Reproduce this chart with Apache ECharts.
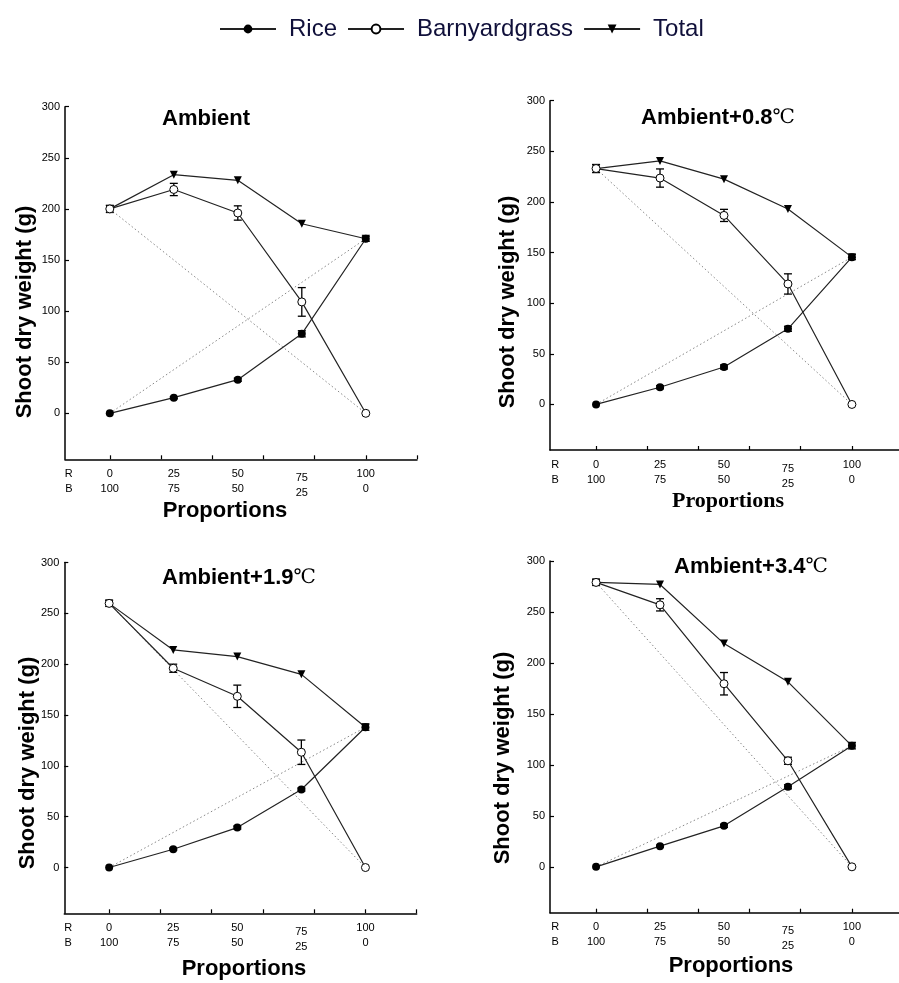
<!DOCTYPE html>
<html>
<head>
<meta charset="utf-8">
<script src="https://cdn.jsdelivr.net/npm/echarts@6.0.0/dist/echarts.min.js"></script>
<style>html,body{margin:0;padding:0;background:#fff}#c{width:899px;height:983px}</style>
</head>
<body>
<div id="c"></div>
<script>
// ---- data ----
const proportions = [0, 25, 50, 75, 100];
const riceLabels = ['0', '25', '50', '75', '100'];
const barnLabels = ['100', '75', '50', '25', '0'];
const yTicks = [0, 50, 100, 150, 200, 250, 300];
const xTicks = [0, 20, 40, 60, 80, 100, 120];
const seriesNames = ['Rice', 'Barnyardgrass', 'Total'];
const panelTitles = ['Ambient', 'Ambient+0.8', 'Ambient+1.9', 'Ambient+3.4'];
const titleUnits = ['', '℃', '℃', '℃'];

const riceAmbient = [0, 15.3, 32.9, 77.8, 170.8];
const barnAmbient = [200, 219, 196, 109, 0];
const totalAmbient = [200, 233.5, 228, 185.5, 170.8];
const riceErrAmbient = [0, 1, 1.5, 3, 2.5];
const barnErrAmbient = [3.5, 6, 7, 14, 0];

const riceP08 = [0, 17, 37, 74.7, 145.5];
const barnP08 = [233, 223.6, 186.7, 119, 0];
const totalP08 = [233, 240.5, 222.5, 193, 145.5];
const riceErrP08 = [0, 1.5, 2, 2.5, 2.5];
const barnErrP08 = [4, 9, 6, 10, 0];

const riceP19 = [0, 18, 39.3, 76.7, 138];
const barnP19 = [259.8, 196, 168.4, 113.4, 0];
const totalP19 = [259.8, 214, 207.5, 190, 138];
const riceErrP19 = [0, 1, 1.5, 1.5, 3];
const barnErrP19 = [3, 4, 11, 12, 0];

const riceP34 = [0, 20.3, 40.2, 78.5, 118.7];
const barnP34 = [279, 257, 179.6, 104, 0];
const totalP34 = [279, 277, 219, 181.5, 118.7];
const riceErrP34 = [0, 1, 1.5, 2, 3];
const barnErrP34 = [3, 6, 11, 3.5, 0];

const panels = [
  {rice: riceAmbient, barn: barnAmbient, total: totalAmbient, riceErr: riceErrAmbient, barnErr: barnErrAmbient},
  {rice: riceP08, barn: barnP08, total: totalP08, riceErr: riceErrP08, barnErr: barnErrP08},
  {rice: riceP19, barn: barnP19, total: totalP19, riceErr: riceErrP19, barnErr: barnErrP19},
  {rice: riceP34, barn: barnP34, total: totalP34, riceErr: riceErrP34, barnErr: barnErrP34}
];

// ---- layout ----
const grids = [
  {left: 65, top: 106.7, width: 352, height: 352.6},
  {left: 550, top: 100.7, width: 349, height: 349.3},
  {left: 64.3, top: 562.5, width: 352.4, height: 350.8},
  {left: 550, top: 561, width: 349, height: 351.7}
];
const xRanges = [[-17.5, 120], [-18, 118.4], [-17.5, 120], [-18, 118.4]];
const yNamePos = [[25, 312], [508, 302], [28, 763], [503, 758]];
const xNamePos = [[225, 511], [728, 501], [244, 969], [731, 966]];
const xNameSerif = [false, true, false, false];
const titlePos = [[206, 119], [718, 118], [239, 578], [751, 567]];

const tickFont = '"Liberation Sans", Arial, sans-serif';
const ink = '#222';

const option = {
  animation: false,
  backgroundColor: '#fff',
  legend: {
    data: seriesNames,
    left: 214, top: 12,
    itemWidth: 56, itemHeight: 11, itemGap: 10,
    textStyle: {fontFamily: 'Arial, "Liberation Sans", sans-serif', fontSize: 24, color: '#10103a', padding: [0, 0, 0, 8]}
  },
  grid: grids.map(g => Object.assign({outerBoundsMode: 'none', containLabel: false}, g)),
  xAxis: grids.map((g, i) => ({
    type: 'value', gridIndex: i, min: xRanges[i][0], max: xRanges[i][1],
    axisLine: {onZero: false, lineStyle: {color: '#000', width: 1.5}},
    axisTick: {show: true, inside: true, length: 4, lineStyle: {color: '#000', width: 1.2}, customValues: i % 2 === 0 ? xTicks : xTicks.slice(0, 6)},
    splitLine: {show: false},
    axisLabel: {
      customValues: [-16].concat(proportions),
      margin: 7,
      fontFamily: tickFont, fontSize: 11, lineHeight: 15, color: '#000',
      rich: {sp: {fontSize: 2, lineHeight: 4, height: 4}},
      formatter: v => {
        if (v < 0) return 'R\nB';
        const k = proportions.indexOf(v);
        const txt = riceLabels[k] + '\n' + barnLabels[k];
        return v === 75 ? '{sp| }\n' + txt : txt;
      }
    }
  })),
  yAxis: grids.map((g, i) => ({
    type: 'value', gridIndex: i, min: -45, max: 300,
    axisLine: {show: true, onZero: false, lineStyle: {color: '#000', width: 1.5}},
    axisTick: {show: true, inside: true, length: 4, lineStyle: {color: '#000', width: 1.2}, customValues: yTicks},
    splitLine: {show: false},
    axisLabel: {customValues: yTicks, margin: 5, fontFamily: tickFont, fontSize: 11, color: '#000'}
  })),
  graphic: [],
  series: []
};

panels.forEach((p, i) => {
  const pts = arr => proportions.map((x, k) => [x, arr[k]]);
  const axes = {xAxisIndex: i, yAxisIndex: i};
  // expected (dotted) lines
  option.series.push(Object.assign({
    type: 'line', name: 'expRice' + i, data: [[proportions[0], 0], [proportions[4], p.rice[4]]],
    symbol: 'none', silent: true, z: 1,
    lineStyle: {color: '#888', width: 1, type: [1.5, 2.5]}
  }, axes));
  option.series.push(Object.assign({
    type: 'line', name: 'expBarn' + i, data: [[proportions[0], p.barn[0]], [proportions[4], 0]],
    symbol: 'none', silent: true, z: 1,
    lineStyle: {color: '#888', width: 1, type: [1.5, 2.5]}
  }, axes));
  // error bars
  const errData = [];
  proportions.forEach((x, k) => {
    if (p.barnErr[k] > 0) errData.push([x, p.barn[k], p.barnErr[k]]);
    if (p.riceErr[k] > 0) errData.push([x, p.rice[k], p.riceErr[k]]);
  });
  option.series.push(Object.assign({
    type: 'custom', name: 'err' + i, data: errData, z: 3, silent: true,
    renderItem: (params, api) => {
      const x = api.value(0), y = api.value(1), e = api.value(2);
      const hi = api.coord([x, y + e]), lo = api.coord([x, y - e]);
      const w = 4;
      const st = {stroke: '#000', lineWidth: 1.3};
      return {type: 'group', children: [
        {type: 'line', shape: {x1: hi[0], y1: hi[1], x2: lo[0], y2: lo[1]}, style: st},
        {type: 'line', shape: {x1: hi[0] - w, y1: hi[1], x2: hi[0] + w, y2: hi[1]}, style: st},
        {type: 'line', shape: {x1: lo[0] - w, y1: lo[1], x2: lo[0] + w, y2: lo[1]}, style: st}
      ]};
    },
    encode: {x: 0, y: 1}
  }, axes));
  // main series
  option.series.push(Object.assign({
    type: 'line', name: 'Total', data: pts(p.total), z: 4,
    symbol: 'triangle', symbolRotate: 180, symbolSize: 8,
    itemStyle: {color: '#000'}, lineStyle: {color: ink, width: 1.2}
  }, axes));
  option.series.push(Object.assign({
    type: 'line', name: 'Barnyardgrass', data: pts(p.barn), z: 5,
    symbol: 'circle', symbolSize: 8,
    itemStyle: {color: '#fff', borderColor: '#000', borderWidth: 1},
    lineStyle: {color: ink, width: 1.2}
  }, axes));
  option.series.push(Object.assign({
    type: 'line', name: 'Rice', data: pts(p.rice), z: 6,
    symbol: 'circle', symbolSize: 8,
    itemStyle: {color: '#000'}, lineStyle: {color: ink, width: 1.2}
  }, axes));

  // texts
  option.graphic.push({
    type: 'text', x: yNamePos[i][0], y: yNamePos[i][1], rotation: Math.PI / 2,
    style: {text: 'Shoot dry weight (g)', fontFamily: 'Arial, "Liberation Sans", sans-serif', fontSize: 22, fontWeight: 'bold',
      fill: '#000', align: 'center', verticalAlign: 'middle'}
  });
  option.graphic.push({
    type: 'text', x: xNamePos[i][0], y: xNamePos[i][1],
    style: {text: 'Proportions',
      fontFamily: xNameSerif[i] ? '"Liberation Serif", "Times New Roman", serif' : 'Arial, "Liberation Sans", sans-serif',
      fontSize: 22, fontWeight: 'bold', fill: '#000', align: 'center', verticalAlign: 'middle'}
  });
  option.graphic.push({
    type: 'text', x: titlePos[i][0], y: titlePos[i][1],
    style: {
      text: '{a|' + panelTitles[i] + '}' + (titleUnits[i] ? '{b|' + titleUnits[i] + '}' : ''),
      align: 'center', verticalAlign: 'middle',
      rich: {
        a: {fontFamily: 'Arial, "Liberation Sans", sans-serif', fontSize: 22, fontWeight: 'bold', fill: '#000', color: '#000'},
        b: {fontFamily: '"DejaVu Serif", "Liberation Serif", serif', fontSize: 20, fill: '#000', color: '#000'}
      }
    }
  });
});

const chart = echarts.init(document.getElementById('c'), null, {renderer: 'canvas'});
chart.setOption(option);
</script>
</body>
</html>
